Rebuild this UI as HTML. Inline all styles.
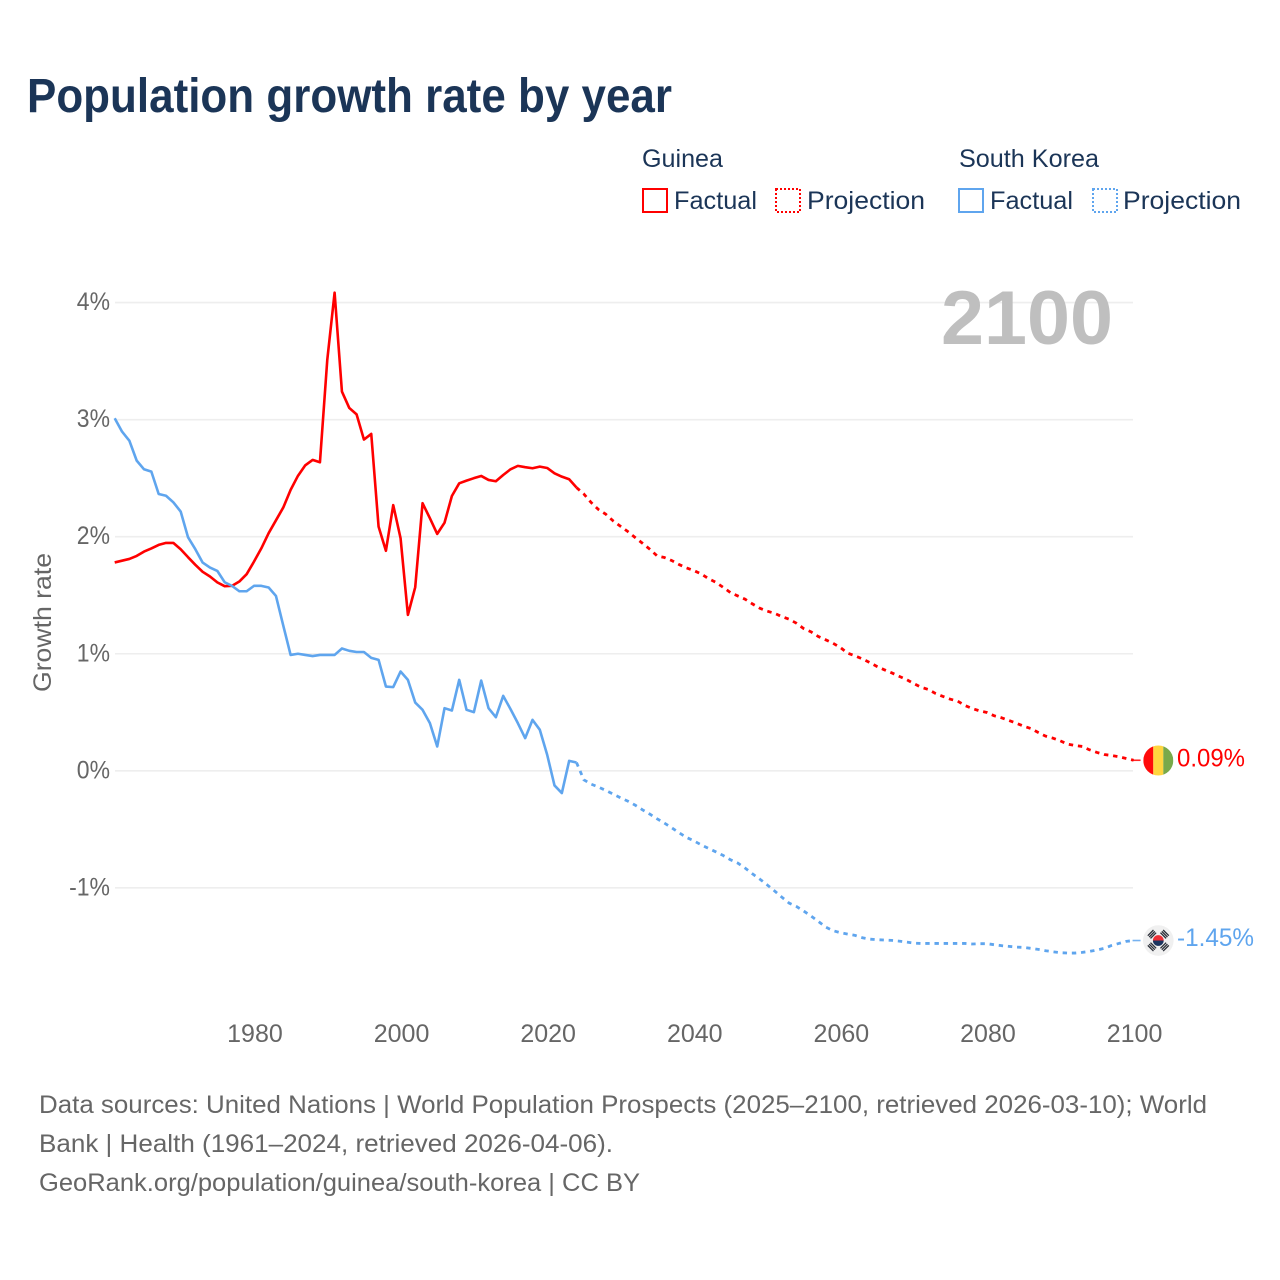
<!DOCTYPE html>
<html lang="en">
<head>
<meta charset="utf-8">
<title>Population growth rate by year</title>
<style>
  html, body { margin: 0; padding: 0; background: #fff; }
  svg { display: block; }
  text { font-family: "Liberation Sans", sans-serif; }
  .legend-text { font-size: 25px; fill: #1b3557; }
  .tick { font-size: 25px; fill: #666; }
  .foot { font-size: 25px; fill: #666; }
</style>
</head>
<body>
<svg id="chart" xmlns="http://www.w3.org/2000/svg" width="1280" height="1280" viewBox="0 0 1280 1280">
  <rect width="1280" height="1280" fill="#fff"/>
  <text x="27" y="112" font-size="48" font-weight="700" fill="#1b3557" textLength="645" lengthAdjust="spacingAndGlyphs">Population growth rate by year</text>

  <g>
    <text class="legend-text" x="642" y="167" textLength="81" lengthAdjust="spacingAndGlyphs">Guinea</text>
    <text class="legend-text" x="959" y="167" textLength="140" lengthAdjust="spacingAndGlyphs">South Korea</text>
    <rect x="643" y="189" width="24" height="23" fill="none" stroke="#ff0000" stroke-width="2"/>
    <text class="legend-text" x="674" y="209" textLength="83" lengthAdjust="spacingAndGlyphs">Factual</text>
    <rect x="776" y="189" width="24" height="23" fill="none" stroke="#ff0000" stroke-width="2" stroke-dasharray="2 2"/>
    <text class="legend-text" x="807" y="209" textLength="118" lengthAdjust="spacingAndGlyphs">Projection</text>
    <rect x="959" y="189" width="24" height="23" fill="none" stroke="#5fa5ee" stroke-width="2"/>
    <text class="legend-text" x="990" y="209" textLength="83" lengthAdjust="spacingAndGlyphs">Factual</text>
    <rect x="1093" y="189" width="24" height="23" fill="none" stroke="#5fa5ee" stroke-width="2" stroke-dasharray="2 2"/>
    <text class="legend-text" x="1123" y="209" textLength="118" lengthAdjust="spacingAndGlyphs">Projection</text>
  </g>

  <g id="grid"></g>
  <g id="y-ticks"></g>
  <g id="x-ticks"></g>
  <text transform="translate(51,692) rotate(-90)" font-size="25" fill="#666" textLength="139" lengthAdjust="spacingAndGlyphs">Growth rate</text>
  <text x="1113" y="344" text-anchor="end" font-size="76" font-weight="700" fill="#bfbfbf" textLength="172" lengthAdjust="spacingAndGlyphs">2100</text>

  <g id="series"></g>

  <g id="flag-guinea">
    <clipPath id="clip-guinea"><circle r="15"/></clipPath>
    <g clip-path="url(#clip-guinea)">
      <rect x="-15" y="-15" width="10" height="30" fill="#ff0a0a"/>
      <rect x="-5" y="-15" width="10" height="30" fill="#ffd53f"/>
      <rect x="5" y="-15" width="10" height="30" fill="#78a94a"/>
    </g>
  </g>
  <g id="flag-korea">
    <circle r="15.3" fill="#f0f0f0"/>
    <path d="M-5.4 0A5.4 5.4 0 0 1 5.4 0Z" fill="#ee2f36"/>
    <path d="M-5.4 0A5.4 5.4 0 0 0 5.4 0Z" fill="#1c3560"/>
    <g fill="#2b2f38">
      <g transform="rotate(-45)"><rect x="-4" y="-11.5" width="8" height="1.3"/><rect x="-4" y="-9.6" width="8" height="1.3"/><rect x="-4" y="-7.7" width="8" height="1.3"/></g>
      <g transform="rotate(45)"><rect x="-4" y="-11.5" width="8" height="1.3"/><rect x="-4" y="-9.6" width="8" height="1.3"/><rect x="-4" y="-7.7" width="8" height="1.3"/></g>
      <g transform="rotate(135)"><rect x="-4" y="-11.5" width="8" height="1.3"/><rect x="-4" y="-9.6" width="8" height="1.3"/><rect x="-4" y="-7.7" width="8" height="1.3"/></g>
      <g transform="rotate(225)"><rect x="-4" y="-11.5" width="8" height="1.3"/><rect x="-4" y="-9.6" width="8" height="1.3"/><rect x="-4" y="-7.7" width="8" height="1.3"/></g>
    </g>
  </g>
  <text id="label-guinea" x="1177" font-size="25" fill="#ff0000" textLength="68" lengthAdjust="spacingAndGlyphs"></text>
  <text id="label-korea" x="1177" font-size="25" fill="#5fa5ee" textLength="77" lengthAdjust="spacingAndGlyphs"></text>

  <g>
    <text class="foot" x="39" y="1113" textLength="1168" lengthAdjust="spacingAndGlyphs">Data sources: United Nations | World Population Prospects (2025–2100, retrieved 2026-03-10); World</text>
    <text class="foot" x="39" y="1152" textLength="574" lengthAdjust="spacingAndGlyphs">Bank | Health (1961–2024, retrieved 2026-04-06).</text>
    <text class="foot" x="39" y="1191" textLength="601" lengthAdjust="spacingAndGlyphs">GeoRank.org/population/guinea/south-korea | CC BY</text>
  </g>
</svg>
<script>
const firstYear = 1961;
const xTickYears = [1980, 2000, 2020, 2040, 2060, 2080, 2100];
const yTickValues = [-1, 0, 1, 2, 3, 4];

const guineaFactual = [1.78,1.795,1.81,1.836,1.873,1.90,1.93,1.947,1.947,1.893,1.825,1.76,1.70,1.66,1.61,1.577,1.58,1.617,1.68,1.787,1.90,2.03,2.14,2.25,2.40,2.52,2.61,2.656,2.636,3.51,4.085,3.24,3.10,3.045,2.83,2.878,2.086,1.88,2.27,1.987,1.332,1.569,2.286,2.158,2.024,2.12,2.348,2.456,2.479,2.50,2.519,2.485,2.474,2.527,2.576,2.605,2.594,2.585,2.599,2.587,2.542,2.513,2.491,2.42];
const guineaProjection = [2.365,2.292,2.232,2.192,2.135,2.089,2.044,1.993,1.944,1.893,1.836,1.822,1.796,1.762,1.734,1.711,1.682,1.642,1.611,1.568,1.523,1.494,1.466,1.426,1.389,1.364,1.346,1.318,1.295,1.261,1.215,1.187,1.147,1.119,1.09,1.053,1.005,0.982,0.956,0.925,0.891,0.863,0.837,0.808,0.780,0.746,0.714,0.695,0.660,0.635,0.612,0.595,0.558,0.532,0.512,0.498,0.470,0.453,0.430,0.407,0.381,0.361,0.327,0.296,0.279,0.256,0.228,0.216,0.208,0.179,0.157,0.139,0.131,0.120,0.105,0.09];
const koreaFactual = [3.012,2.898,2.82,2.65,2.576,2.556,2.365,2.35,2.294,2.215,1.996,1.893,1.779,1.736,1.708,1.611,1.58,1.534,1.534,1.58,1.58,1.566,1.494,1.24,0.99,1.0,0.99,0.98,0.99,0.99,0.99,1.045,1.025,1.015,1.015,0.965,0.948,0.72,0.715,0.848,0.777,0.583,0.521,0.407,0.208,0.535,0.515,0.777,0.521,0.501,0.771,0.535,0.458,0.64,0.527,0.407,0.279,0.435,0.35,0.137,-0.125,-0.19,0.085,0.071];
const koreaProjection = [-0.077,-0.114,-0.139,-0.168,-0.199,-0.231,-0.259,-0.293,-0.333,-0.370,-0.410,-0.447,-0.487,-0.529,-0.569,-0.598,-0.632,-0.663,-0.692,-0.723,-0.760,-0.788,-0.831,-0.880,-0.925,-0.974,-1.025,-1.079,-1.130,-1.159,-1.198,-1.241,-1.287,-1.335,-1.366,-1.383,-1.395,-1.406,-1.426,-1.438,-1.443,-1.446,-1.449,-1.455,-1.463,-1.472,-1.475,-1.475,-1.475,-1.475,-1.475,-1.475,-1.475,-1.480,-1.477,-1.477,-1.486,-1.494,-1.500,-1.506,-1.509,-1.517,-1.526,-1.537,-1.546,-1.554,-1.557,-1.557,-1.551,-1.543,-1.531,-1.517,-1.492,-1.475,-1.457,-1.45];

const SVGNS = 'http://www.w3.org/2000/svg';
function xScale(year) { return 114.7 + (year - firstYear) * 7.33; }
function yScale(value) { return 770.8 - value * 117.05; }
function make(tag, attrs, parent) {
  const el = document.createElementNS(SVGNS, tag);
  for (const k in attrs) el.setAttribute(k, attrs[k]);
  parent.appendChild(el);
  return el;
}
function pathFrom(startYear, values) {
  return values.map(function (v, i) {
    return (i ? 'L' : 'M') + xScale(startYear + i).toFixed(2) + ' ' + yScale(v).toFixed(2);
  }).join('');
}

const gridGroup = document.getElementById('grid');
const yGroup = document.getElementById('y-ticks');
const xGroup = document.getElementById('x-ticks');
const seriesGroup = document.getElementById('series');

yTickValues.forEach(function (v) {
  const line = make('line', { x1: 115, x2: 1133, y1: yScale(v), y2: yScale(v), stroke: '#eeeeee', 'stroke-width': 1.6 }, gridGroup);
  
  
  const label = make('text', { x: 110, y: yScale(v) + 7.5, 'text-anchor': 'end', class: 'tick' }, yGroup);
  label.textContent = v + '%';
  
  
  label.setAttribute('textLength', (label.getComputedTextLength() * 0.92).toFixed(1));
  label.setAttribute('lengthAdjust', 'spacingAndGlyphs');
});

xTickYears.forEach(function (year) {
  const label = make('text', { x: xScale(year) + 1, y: 1042, 'text-anchor': 'middle', class: 'tick' }, xGroup);
  label.textContent = year;
  
  
});

function drawSeries(factual, projection, color, key) {
  const solid = make('path', { d: pathFrom(firstYear, factual), fill: 'none', stroke: color, 'stroke-width': 2.6, 'stroke-linejoin': 'round' }, seriesGroup);
  
  
  const lastYear = firstYear + factual.length - 1;
  const joined = [factual[factual.length - 1]].concat(projection);
  const dashed = make('path', { d: pathFrom(lastYear, joined), fill: 'none', stroke: color, 'stroke-width': 2.8, 'stroke-dasharray': '4.4 4.8', 'stroke-linejoin': 'round' }, seriesGroup);
  
  
  const endValue = projection[projection.length - 1];
  const endYear = lastYear + projection.length;
  const connector = make('line', { x1: xScale(endYear) - 1, x2: xScale(endYear) + 7, y1: yScale(endValue), y2: yScale(endValue), stroke: color, 'stroke-width': 1.6, opacity: 0.85 }, seriesGroup);
  
  
  return endValue;
}

const guineaEnd = drawSeries(guineaFactual, guineaProjection, '#ff0000', 'guinea');
const koreaEnd = drawSeries(koreaFactual, koreaProjection, '#5fa5ee', 'south-korea');

document.getElementById('flag-guinea').setAttribute('transform', 'translate(1158.3,' + (yScale(guineaEnd) + 0.2) + ')');
document.getElementById('flag-korea').setAttribute('transform', 'translate(1158.3,' + yScale(koreaEnd) + ')');
const guineaLabel = document.getElementById('label-guinea');
guineaLabel.textContent = guineaEnd.toFixed(2) + '%';
guineaLabel.setAttribute('y', yScale(guineaEnd) + 6);
const koreaLabel = document.getElementById('label-korea');
koreaLabel.textContent = koreaEnd.toFixed(2) + '%';
koreaLabel.setAttribute('y', yScale(koreaEnd) + 5.5);
</script>
</body>
</html>
